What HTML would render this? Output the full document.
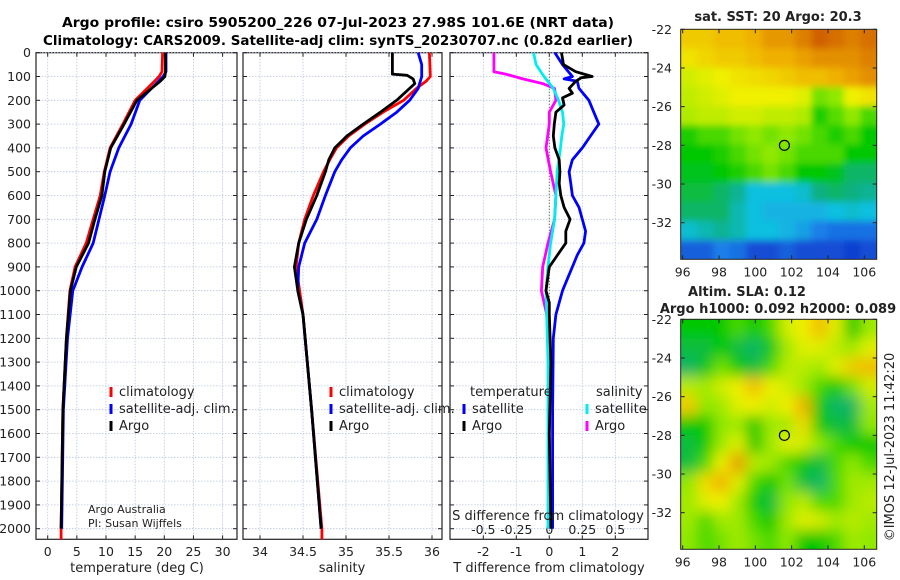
<!DOCTYPE html>
<html><head><meta charset="utf-8"><style>
body{margin:0;background:#fff}
svg{display:block;font-family:"DejaVu Sans","Liberation Sans",sans-serif}
</style></head><body>
<svg id="fig" width="900" height="580" viewBox="0 0 900 580" xmlns="http://www.w3.org/2000/svg">
<defs>
<filter id="blurSST" x="-10%" y="-10%" width="120%" height="120%"><feGaussianBlur stdDeviation="3.5"/></filter>
<filter id="blurSLA" x="-10%" y="-10%" width="120%" height="120%"><feGaussianBlur stdDeviation="7"/></filter>
<clipPath id="clipSST"><rect x="680.7" y="29.3" width="196" height="230"/></clipPath>
<clipPath id="clipSLA"><rect x="680.7" y="319.3" width="196" height="230"/></clipPath>
</defs>
<rect width="900" height="580" fill="#fff"/>
<text x="338" y="27" font-size="13" font-weight="bold" text-anchor="middle" textLength="552" lengthAdjust="spacingAndGlyphs">Argo profile: csiro 5905200_226 07-Jul-2023 27.98S 101.6E (NRT data)</text>
<text x="338" y="45" font-size="13" font-weight="bold" text-anchor="middle" textLength="590" lengthAdjust="spacingAndGlyphs">Climatology: CARS2009. Satellite-adj clim: synTS_20230707.nc (0.82d earlier)</text>
<g id="g"></g>
</svg>
<script>
// ---- data ----
const depthTicks=[0,100,200,300,400,500,600,700,800,900,1000,1100,1200,1300,1400,1500,1600,1700,1800,1900,2000];
const tTicks=[0,5,10,15,20,25,30];
const sTicks=[34,34.5,35,35.5,36];
const tdTicks=[-2,-1,0,1,2];
const sdTicks=[-0.5,-0.25,0,0.25,0.5];
const sdTickLabels=["-0.5","-0.25","0","0.25","0.5"];

const climTDepth=[0,80,100,120,200,300,400,500,600,700,800,900,1000,1200,1500,2000,2045];
const climT=[19.7,19.6,19.1,18.3,15,12.9,10.7,9.7,9.0,7.8,6.6,4.7,3.8,3.2,2.6,2.3,2.3];
const argoTDepth=[0,80,100,120,200,300,400,500,600,700,800,900,1000,1200,1500,2000];
const argoT=[20.2,20.2,20.1,19.3,15.3,13.1,10.8,9.8,9.3,8.1,7.0,4.9,3.9,3.2,2.6,2.3];
const satTDepth=[0,80,100,120,200,300,400,500,600,700,800,900,1000,1200,1500,2000];
const satT=[20.3,20.3,19.8,19.0,15.8,14.3,12.2,10.7,9.8,8.8,7.8,5.9,4.3,3.4,2.7,2.4];

const climSDepth=[0,100,120,150,200,250,300,350,400,450,500,600,700,800,900,1000,1100,1300,1500,2000,2045];
const climS=[35.97,35.98,35.93,35.82,35.67,35.43,35.22,35.03,34.89,34.81,34.74,34.62,34.52,34.45,34.42,34.46,34.5,34.55,34.6,34.72,34.72];
const argoSDepth=[0,90,95,110,130,150,200,250,300,350,400,450,500,600,700,800,900,1000,1100,1300,1500,2000];
const argoS=[35.54,35.54,35.71,35.78,35.8,35.74,35.59,35.40,35.2,35.01,34.87,34.80,34.76,34.66,34.54,34.45,34.40,34.44,34.5,34.55,34.6,34.71];
const satSDepth=[0,50,100,150,200,250,300,350,400,450,500,600,700,800,900,1000,1100,1300,1500,2000];
const satS=[35.84,35.88,35.88,35.84,35.74,35.59,35.40,35.2,35.05,34.95,34.87,34.76,34.66,34.52,34.45,34.44,34.5,34.55,34.6,34.71];

const argoTdDepth=[0,50,80,100,105,120,150,170,190,220,250,300,350,400,450,500,550,600,650,700,750,800,850,900,950,1000,1050,1100,1300,1600,2000];
const argoTd=[0.37,0.43,0.8,1.3,0.97,0.8,0.6,0.7,0.4,0.45,0.2,0.15,0.12,0.17,0.3,0.32,0.3,0.35,0.45,0.63,0.5,0.5,0.25,0.0,-0.05,-0.1,0.0,0.0,0.05,0.0,0.05];
const satTdDepth=[0,50,100,110,120,150,200,250,300,350,400,450,500,550,600,650,700,750,800,850,900,950,1000,1050,1100,1200,1500,2000];
const satTd=[0.17,0.4,0.7,0.45,0.85,0.9,1.2,1.35,1.5,1.25,1.0,0.7,0.6,0.65,0.7,0.9,1.0,1.1,1.05,0.85,0.7,0.55,0.4,0.3,0.2,0.12,0.1,0.1];
const satSdDepth=[0,50,100,150,200,250,300,350,400,500,600,700,800,900,1000,1100,1300,2000];
const satSd=[-0.12,-0.1,-0.04,0.03,0.07,0.1,0.11,0.095,0.085,0.06,0.05,0.04,0.01,-0.01,-0.025,-0.02,-0.01,-0.01];
const argoSdDepth=[0,80,90,110,130,150,200,250,300,400,500,600,700,800,900,1000,1100,1300,2000];
const argoSd=[-0.42,-0.42,-0.33,-0.2,-0.05,0.04,0.05,0,0,-0.025,0.01,0.05,0.04,-0.01,-0.05,-0.06,-0.02,0,0];

const lonTicks=[96,98,100,102,104,106];
const latTicks=[-22,-24,-26,-28,-30,-32];
const argoLon=101.6, argoLat=-28;
const sstGrid=[
[0.78,0.78,0.8,0.8,0.82,0.85,0.85,0.88,0.92,0.9,0.88,0.9],
[0.74,0.76,0.78,0.78,0.8,0.82,0.82,0.84,0.86,0.86,0.86,0.88],
[0.68,0.7,0.72,0.74,0.75,0.76,0.78,0.8,0.8,0.82,0.84,0.86],
[0.66,0.68,0.7,0.72,0.72,0.72,0.72,0.7,0.58,0.6,0.72,0.74],
[0.64,0.66,0.66,0.68,0.68,0.66,0.66,0.64,0.52,0.56,0.6,0.55],
[0.52,0.55,0.55,0.58,0.6,0.58,0.6,0.58,0.55,0.52,0.55,0.5],
[0.5,0.5,0.52,0.55,0.58,0.6,0.58,0.55,0.55,0.55,0.5,0.5],
[0.48,0.48,0.5,0.52,0.55,0.58,0.55,0.5,0.5,0.48,0.42,0.42],
[0.45,0.45,0.42,0.38,0.3,0.3,0.3,0.32,0.4,0.42,0.4,0.38],
[0.42,0.42,0.42,0.35,0.3,0.28,0.28,0.28,0.28,0.3,0.32,0.3],
[0.32,0.35,0.38,0.35,0.3,0.3,0.28,0.25,0.2,0.18,0.18,0.18],
[0.15,0.15,0.2,0.18,0.12,0.12,0.15,0.12,0.12,0.12,0.1,0.12]];
const slaGrid=[
[0.5,0.5,0.5,0.55,0.5,0.55,0.68,0.72,0.8,0.7,0.5,0.62],
[0.45,0.45,0.5,0.45,0.42,0.48,0.62,0.7,0.7,0.65,0.62,0.7],
[0.42,0.48,0.58,0.5,0.45,0.55,0.65,0.65,0.62,0.7,0.78,0.8],
[0.65,0.62,0.68,0.72,0.8,0.72,0.68,0.62,0.55,0.5,0.58,0.68],
[0.78,0.6,0.62,0.7,0.72,0.68,0.72,0.82,0.5,0.42,0.42,0.62],
[0.5,0.5,0.6,0.62,0.5,0.62,0.62,0.75,0.5,0.45,0.45,0.6],
[0.45,0.5,0.62,0.7,0.5,0.62,0.7,0.68,0.6,0.55,0.5,0.5],
[0.45,0.55,0.72,0.85,0.65,0.62,0.55,0.5,0.45,0.55,0.6,0.55],
[0.6,0.75,0.82,0.7,0.55,0.5,0.58,0.45,0.42,0.55,0.62,0.62],
[0.62,0.7,0.72,0.62,0.5,0.45,0.6,0.65,0.55,0.55,0.62,0.65],
[0.62,0.55,0.62,0.62,0.55,0.5,0.62,0.7,0.68,0.62,0.65,0.62],
[0.6,0.55,0.58,0.62,0.58,0.55,0.6,0.5,0.5,0.55,0.62,0.6]];

// ---- helpers ----
const NS="http://www.w3.org/2000/svg";
const G=document.getElementById('g');
function mk(tag,attrs,parent){const e=document.createElementNS(NS,tag);for(const k in attrs)e.setAttribute(k,attrs[k]);(parent||G).appendChild(e);return e;}
function txt(s,x,y,size,anchor,name){const e=mk('text',{x:x,y:y,'font-size':size,'text-anchor':anchor||'middle',fill:'#222'});e.textContent=s;


return e;}
const top_=52.7, pBot=539.3;
function yD(d){return top_+d*0.238;}
const panels=[
 {x0:36,x1:237,name:'temperature-panel',fx:v=>47.7+v*5.83},
 {x0:243,x1:442,name:'salinity-panel',fx:v=>260+(v-34)*86},
 {x0:450,x1:648,name:'difference-panel',fx:v=>549.3+v*33}
];
const sdx=v=>549.3+v*132;

panels.forEach((p,i)=>{
 const box=mk('rect',{x:p.x0,y:top_,width:p.x1-p.x0,height:pBot-top_,fill:'none',stroke:'#222','stroke-width':1.2});
 
 
 depthTicks.forEach(d=>{const y=yD(d);
  const gl=mk('line',{x1:p.x0,x2:p.x1,y1:y,y2:y,stroke:'#b8c4e0','stroke-width':0.8,'stroke-dasharray':'1.5,1.5'});
  
  
  mk('line',{x1:p.x0,x2:p.x0+4,y1:y,y2:y,stroke:'#222'});
  mk('line',{x1:p.x1-4,x2:p.x1,y1:y,y2:y,stroke:'#222'});
 });
});
depthTicks.forEach(d=>txt(String(d),31,yD(d)+4.5,12.5,'end','depth-tick-label'));

function vgrid(p,ticks,fx){ticks.forEach(v=>{const x=fx(v);
 const gl=mk('line',{x1:x,x2:x,y1:top_,y2:pBot,stroke:'#b8c4e0','stroke-width':0.8,'stroke-dasharray':'1.5,1.5'});
 
 
 mk('line',{x1:x,x2:x,y1:pBot-4,y2:pBot,stroke:'#222'});
 mk('line',{x1:x,x2:x,y1:top_,y2:top_+4,stroke:'#222'});
});}
vgrid(panels[0],tTicks,panels[0].fx);
vgrid(panels[1],sTicks,panels[1].fx);
vgrid(panels[2],tdTicks,panels[2].fx);
tTicks.forEach(v=>txt(String(v),panels[0].fx(v),556,12.5,'middle','temperature-tick-label'));
sTicks.forEach(v=>txt(String(v),panels[1].fx(v),556,12.5,'middle','salinity-tick-label'));
tdTicks.forEach(v=>txt(String(v),panels[2].fx(v),556,12.5,'middle','t-diff-tick-label'));
sdTicks.forEach((v,i)=>txt(sdTickLabels[i],sdx(v),534,12.5,'middle','s-diff-tick-label'));
txt('temperature (deg C)',137,572,13,'middle','temperature-axis-title');
txt('salinity',342,572,13,'middle','salinity-axis-title');
txt('T difference from climatology',549,572,13,'middle','t-diff-axis-title');
const zl=mk('line',{x1:549.3,x2:549.3,y1:top_,y2:pBot,stroke:'#445522','stroke-width':1,'stroke-dasharray':'1,2'});



function series(depths,vals,fx,color,name,w){
 const pts=depths.map((d,i)=>fx(vals[i]).toFixed(1)+','+yD(d).toFixed(1)).join(' ');
 const e=mk('polyline',{points:pts,fill:'none',stroke:color,'stroke-width':w||2.8,'stroke-linejoin':'round'});
 
 
}
series(climTDepth,climT,panels[0].fx,'#ff0000','climatology-temperature-line');
series(satTDepth,satT,panels[0].fx,'#0000ff','satellite-adj-temperature-line');
series(argoTDepth,argoT,panels[0].fx,'#000000','argo-temperature-line');
series(climSDepth,climS,panels[1].fx,'#ff0000','climatology-salinity-line');
series(satSDepth,satS,panels[1].fx,'#0000ff','satellite-adj-salinity-line');
series(argoSDepth,argoS,panels[1].fx,'#000000','argo-salinity-line');
series(argoSdDepth,argoSd,sdx,'#ff00ff','argo-s-diff-line');
series(satSdDepth,satSd,sdx,'#00eeee','satellite-s-diff-line');
series(satTdDepth,satTd,panels[2].fx,'#0000ff','satellite-t-diff-line');
series(argoTdDepth,argoTd,panels[2].fx,'#000000','argo-t-diff-line');

function legEntry(x,y,color,label,name){
 const m=mk('line',{x1:x,x2:x,y1:y-9,y2:y+1,stroke:color,'stroke-width':3});
 
 
 txt(label,x+8,y,13,'start',name);
}
legEntry(111,396,'#ff0000','climatology','legend-climatology');
legEntry(111,413,'#0000ff','satellite-adj. clim.','legend-satellite-adj');
legEntry(111,430,'#000000','Argo','legend-argo');
legEntry(331,396,'#ff0000','climatology','legend-climatology-s');
legEntry(331,413,'#0000ff','satellite-adj. clim.','legend-satellite-adj-s');
legEntry(331,430,'#000000','Argo','legend-argo-s');
txt('temperature',470,396,13,'start','legend-temperature-heading');
legEntry(464,413,'#0000ff','satellite','legend-t-satellite');
legEntry(464,430,'#000000','Argo','legend-t-argo');
txt('salinity',596,396,13,'start','legend-salinity-heading');
legEntry(587,413,'#00eeee','satellite','legend-s-satellite');
legEntry(587,430,'#ff00ff','Argo','legend-s-argo');
txt('S difference from climatology',548,520,13,'middle','s-diff-axis-title');
txt('Argo Australia',88,513,11,'start','credit-argo-australia');
txt('PI: Susan Wijffels',88,527,11,'start','credit-pi');

const stops=[[0,[0,0,140]],[0.1,[16,64,208]],[0.2,[26,127,232]],[0.3,[16,192,224]],[0.4,[16,176,128]],[0.5,[0,200,0]],[0.6,[144,232,0]],[0.72,[240,240,0]],[0.82,[240,176,0]],[0.92,[208,96,0]],[1,[180,60,0]]];
function cmap(v){for(let i=1;i<stops.length;i++){if(v<=stops[i][0]){const a=stops[i-1],b=stops[i],t=(v-a[0])/(b[0]-a[0]);return 'rgb('+a[1].map((c,k)=>Math.round(c+(b[1][k]-c)*t)).join(',')+')';}}return 'rgb(180,60,0)';}
function drawMap(grid,top,bot,name,filt,clip){
 const L=680.7,R=876.7;
 const fx=lon=>682.7+(lon-96)*18.16;
 const fy=lat=>top+(-22-lat)*19.34;
 const nr=grid.length,nc=grid[0].length;
 const cw=(R-L)/nc,ch=(bot-top)/nr;
 const outer=mk('g',{'clip-path':'url(#'+clip+')'});
 
 
 const inner=mk('g',{filter:'url(#'+filt+')'},outer);
 for(let r=-1;r<=nr;r++)for(let c=-1;c<=nc;c++){
  const v=grid[Math.min(nr-1,Math.max(0,r))][Math.min(nc-1,Math.max(0,c))];
  const cell=mk('rect',{x:L+c*cw,y:top+r*ch,width:cw+0.6,height:ch+0.6,fill:cmap(v)},inner);
  
  
 }
 const f=mk('rect',{x:L,y:top,width:R-L,height:bot-top,fill:'none',stroke:'#222','stroke-width':1});
 
 
 lonTicks.forEach(lon=>{const x=fx(lon);mk('line',{x1:x,x2:x,y1:bot-4,y2:bot,stroke:'#222'});mk('line',{x1:x,x2:x,y1:top,y2:top+4,stroke:'#222'});txt(String(lon),x,bot+17,12.5,'middle',name+'-lon-label');});
 latTicks.forEach(lat=>{const y=fy(lat);mk('line',{x1:L,x2:L+4,y1:y,y2:y,stroke:'#222'});mk('line',{x1:R-4,x2:R,y1:y,y2:y,stroke:'#222'});txt(String(lat),672,y+4.5,12.5,'end',name+'-lat-label');});
 const c=mk('circle',{cx:fx(argoLon),cy:fy(argoLat),r:5,fill:'none',stroke:'#000','stroke-width':1.2});
 
 
}
drawMap(sstGrid,29.3,259.3,'sst-map','blurSST','clipSST');
drawMap(slaGrid,319.3,549.3,'sla-map','blurSLA','clipSLA');
const t1=txt('sat. SST: 20 Argo: 20.3',778,21,13,'middle','sst-map-title');t1.setAttribute('font-weight','bold');
const t2=txt('Altim. SLA: 0.12',747,296,13,'middle','sla-map-title');t2.setAttribute('font-weight','bold');
const t3=txt('Argo h1000: 0.092 h2000: 0.089',778,313,13,'middle','sla-map-subtitle');t3.setAttribute('font-weight','bold');
const cp=txt('©IMOS 12-Jul-2023 11:42:20',0,0,13,'middle','copyright-timestamp');
cp.setAttribute('transform','translate(894,447) rotate(-90)');
</script>
</body></html>
